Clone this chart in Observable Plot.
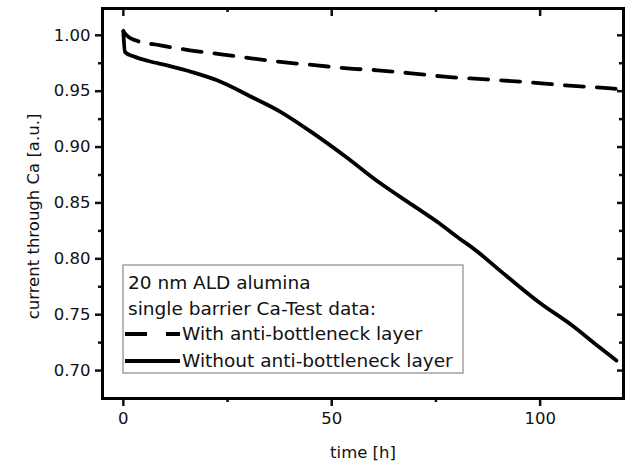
<!DOCTYPE html>
<html>
<head>
<meta charset="utf-8">
<script src="https://cdn.jsdelivr.net/npm/d3@7"></script>
<script src="https://cdn.jsdelivr.net/npm/@observablehq/plot@0.6"></script>
<style>
  html, body { margin: 0; padding: 0; background: #fff; }
  #chart { position: relative; width: 630px; height: 464px; }
</style>
</head>
<body>
<div id="chart"></div>
<script>
// ---- data ----
const tWith = [0, 0.3, 2.9, 8.9, 16, 23.5, 31.1, 38.8, 46.4, 53.8, 61, 69.1, 77, 87, 97, 107, 117, 120];
const vWith = [1.004, 1.002, 0.9955, 0.991, 0.9866, 0.983, 0.9792, 0.9758, 0.9731, 0.9704, 0.9687, 0.966, 0.963, 0.9606, 0.958, 0.955, 0.9525, 0.9515];

const tWithout = [0, 0.4, 2.4, 6, 10.5, 16.7, 22.5, 30.4, 37.6, 45.5, 53.6, 61.5, 69.4, 75.8, 80.6, 83.7, 91.8, 99.8, 107.7, 114, 118.3];
const vWithout = [1.003, 0.985, 0.9812, 0.977, 0.9731, 0.9669, 0.9597, 0.9455, 0.9318, 0.9125, 0.8907, 0.868, 0.848, 0.8318, 0.8182, 0.810, 0.785, 0.7609, 0.7403, 0.7215, 0.709];

const xMajor = [0, 50, 100];
const xMinor = [25, 75];
const yMajor = [0.70, 0.75, 0.80, 0.85, 0.90, 0.95, 1.00];
const yMinor = [0.725, 0.775, 0.825, 0.875, 0.925, 0.975];

const xLabel = "time [h]";
const yLabel = "current through Ca [a.u.]";
const legendTitle = ["20 nm ALD alumina", "single barrier Ca-Test data:"];
const seriesNames = ["With anti-bottleneck layer", "Without anti-bottleneck layer"];

const withData = tWith.map((t, i) => ({t, v: vWith[i]}));
const withoutData = tWithout.map((t, i) => ({t, v: vWithout[i]}));

const W = 630, H = 464;
const mL = 102, mR = 7, mT = 8, mB = 66;
const frameW = W - mL - mR, frameH = H - mT - mB;
const font = "DejaVu Sans";

const chart = Plot.plot({
  width: W,
  height: H,
  marginLeft: mL,
  marginRight: mR,
  marginTop: mT,
  marginBottom: mB,
  style: {fontFamily: font, fontSize: "16.5px", color: "#111", background: "#fff"},
  x: {domain: [-5, 120]},
  y: {domain: [0.675, 1.024]},
  marks: [
    // left axis
    Plot.axisY(yMajor, {anchor: "left", tickSize: 7, tickPadding: 5, tickFormat: d3.format(".2f"), fontSize: 16.5, strokeWidth: 2.5, label: null}),
    Plot.axisY(yMinor, {anchor: "left", tickSize: 4, tickFormat: () => "", strokeWidth: 2.5, label: null}),
    // bottom axis
    Plot.axisX(xMajor, {anchor: "bottom", tickSize: 8, tickPadding: 6, tickFormat: d3.format("d"), fontSize: 16.5, strokeWidth: 2.5, label: null}),
    Plot.axisX(xMinor, {anchor: "bottom", tickSize: 4, tickFormat: () => "", strokeWidth: 2.5, label: null}),
    // mirrored inward ticks (top & right)
    Plot.tickX(xMajor, {x: d => d, insetBottom: frameH - 8, strokeWidth: 2.5}),
    Plot.tickX(xMinor, {x: d => d, insetBottom: frameH - 4, strokeWidth: 2.5}),
    Plot.tickY(yMajor, {y: d => d, insetLeft: frameW - 6, strokeWidth: 2.5}),
    Plot.tickY(yMinor, {y: d => d, insetLeft: frameW - 4, strokeWidth: 2.5}),
    // axis titles
    Plot.text([xLabel], {text: d => d, frameAnchor: "bottom", dy: 54, textAnchor: "middle", lineAnchor: "middle", fontSize: 16.5}),
    Plot.text([yLabel], {text: d => d, frameAnchor: "left", dx: -69, dy: 13, rotate: -90, textAnchor: "middle", lineAnchor: "middle", fontSize: 16.5}),
    // series
    Plot.line(withData, {x: "t", y: "v", stroke: "#000", strokeWidth: 3.8, strokeDasharray: "19,13", strokeLinecap: "round", curve: "monotone-x"}),
    Plot.line(withoutData, {x: "t", y: "v", stroke: "#000", strokeWidth: 3.8, strokeLinejoin: "round", curve: "monotone-x"}),
    Plot.frame({stroke: "#000", strokeWidth: 3})
  ]
});

document.getElementById("chart").appendChild(chart);

// make sure axis tick labels use the intended size
d3.select(chart).selectAll("g[aria-label$='tick label']").attr("font-size", 16.5);

// ---- legend box (inside plot area, lower left) ----
const svg = d3.select(chart);
const lg = svg.append("g").attr("font-family", font).attr("font-size", 18.5)
  .attr("fill", "#111").attr("text-anchor", "start");
lg.append("rect").attr("x", 123).attr("y", 265).attr("width", 340).attr("height", 108)
  .attr("fill", "#fff").attr("stroke", "#8a8a8a").attr("stroke-width", 1.2);
lg.append("text").attr("x", 128).attr("y", 289).text(legendTitle[0]);
lg.append("text").attr("x", 128).attr("y", 315).text(legendTitle[1]);
lg.append("line").attr("x1", 125).attr("x2", 180).attr("y1", 334).attr("y2", 334)
  .attr("stroke", "#000").attr("stroke-width", 3.8).attr("stroke-dasharray", "22,19");
lg.append("text").attr("x", 182).attr("y", 340).text(seriesNames[0]);
lg.append("line").attr("x1", 125).attr("x2", 180).attr("y1", 361).attr("y2", 361)
  .attr("stroke", "#000").attr("stroke-width", 3.8);
lg.append("text").attr("x", 182).attr("y", 367).text(seriesNames[1]);
</script>
</body>
</html>
